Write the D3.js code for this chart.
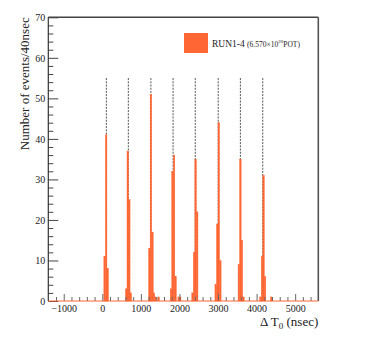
<!DOCTYPE html>
<html>
<head>
<meta charset="utf-8">
<script src="https://cdn.jsdelivr.net/npm/d3@7"></script>
<style>
  body { margin: 0; background: #fff; }
  text { font-family: "Liberation Serif", "DejaVu Serif", serif; fill: #222; }
</style>
</head>
<body>
<script>
// histograma de Delta T0, bins de 40 ns (solo bins no vacios)
const binWidth = 40;
const binLow = [40, 80, 120,
  600, 640, 680, 720,
  1200, 1240, 1280, 1320, 1360, 1440,
  1760, 1800, 1840, 1880, 1960, 2000,
  2320, 2360, 2400, 2440,
  2920, 2960, 3000, 3040,
  3520, 3560, 3600, 3640,
  4080, 4120, 4160, 4200,
  4360];
const binCount = [11, 41, 8,
  3, 37, 25, 2,
  13, 51, 17, 2, 1, 1,
  3, 32, 36, 6, 1, 1,
  2, 12, 35, 22,
  4, 19, 44, 10,
  9, 35, 15, 1,
  1, 11, 31, 6,
  1];

// centros de los bunches (lineas discontinuas) y su altura
const bunchCenters = [105, 675, 1260, 1835, 2410, 3005, 3580, 4160];
const bunchLineTop = 55;

const xRange = [-1400, 5600];
const yRange = [0, 70];
const xMajorTicks = [-1000, 0, 1000, 2000, 3000, 4000, 5000];
const yMajorTicks = [0, 10, 20, 30, 40, 50, 60, 70];

const legendLabel = 'RUN1-4';
const legendDetail = '(6.570×10';
const legendExp = '20';
const legendUnit = 'POT)';

const W = 374, H = 359;
const frame = {left: 48.3, right: 318.3, top: 17.3, bottom: 301};
const orange = '#ff6633';

const svg = d3.select('body').append('svg')
  .attr('width', W)
  .attr('height', H);

svg.append('rect').attr('width', W).attr('height', H).attr('fill', '#fff');

const x = d3.scaleLinear().domain(xRange).range([frame.left, frame.right]);
const y = d3.scaleLinear().domain(yRange).range([frame.bottom, frame.top]);

// lineas discontinuas (debajo de las barras)
svg.append('g')
  .selectAll('line')
  .data(bunchCenters)
  .enter()
  .append('line')
  .attr('x1', d => x(d))
  .attr('x2', d => x(d))
  .attr('y1', y(bunchLineTop))
  .attr('y2', y(0))
  .attr('stroke', '#555')
  .attr('stroke-width', 1)
  .attr('stroke-dasharray', '2,1.2');

// barras
const bins = binLow.map((b, i) => ({low: b, count: binCount[i]}));
svg.append('g')
  .selectAll('rect')
  .data(bins)
  .enter()
  .append('rect')
  .attr('x', d => x(d.low))
  .attr('width', d => x(d.low + binWidth) - x(d.low))
  .attr('y', d => y(d.count))
  .attr('height', d => y(0) - y(d.count))
  .attr('fill', orange)
  .attr('stroke', orange)
  .attr('stroke-width', 0.4);

// ejes (ticks hacia dentro, estilo ROOT)
const xMajor = d3.axisBottom(x)
  .tickValues(xMajorTicks)
  .tickSizeInner(-7)
  .tickSizeOuter(0)
  .tickPadding(4)
  .tickFormat(d3.format('d'));
const xMinor = d3.axisBottom(x)
  .tickValues(d3.range(xRange[0] + 200, xRange[1], 200).filter(v => v % 1000 !== 0))
  .tickSizeInner(-4)
  .tickSizeOuter(0)
  .tickFormat('');

const gx = svg.append('g').attr('transform', `translate(0,${frame.bottom})`).call(xMajor);
const gxm = svg.append('g').attr('transform', `translate(0,${frame.bottom})`).call(xMinor);
[gx, gxm].forEach(g => {
  g.select('.domain').remove();
  g.selectAll('line').attr('stroke', '#666').attr('stroke-width', 1);
});
gx.selectAll('text')
  .style('font-size', '10px')
  .style('font-family', '"Liberation Serif", serif')
  .attr('fill', '#222');

const yMajor = d3.axisLeft(y)
  .tickValues(yMajorTicks)
  .tickSizeInner(-10)
  .tickSizeOuter(0)
  .tickPadding(3)
  .tickFormat(d3.format('d'));
const yMinor = d3.axisLeft(y)
  .tickValues(d3.range(2, 70, 2).filter(v => v % 10 !== 0))
  .tickSizeInner(-5)
  .tickSizeOuter(0)
  .tickFormat('');

const gy = svg.append('g').attr('transform', `translate(${frame.left},0)`).call(yMajor);
const gym = svg.append('g').attr('transform', `translate(${frame.left},0)`).call(yMinor);
[gy, gym].forEach(g => {
  g.select('.domain').remove();
  g.selectAll('line').attr('stroke', '#444').attr('stroke-width', 1);
});
gy.selectAll('text')
  .style('font-size', '10px')
  .style('font-family', '"Liberation Serif", serif')
  .attr('fill', '#222');

// marco
svg.append('line')
  .attr('x1', frame.left).attr('x2', frame.left)
  .attr('y1', frame.top).attr('y2', frame.bottom)
  .attr('stroke', '#333').attr('stroke-width', 1.2);
svg.append('line')
  .attr('x1', frame.left).attr('x2', frame.right)
  .attr('y1', frame.top).attr('y2', frame.top)
  .attr('stroke', '#444').attr('stroke-width', 1.5);
svg.append('line')
  .attr('x1', frame.right).attr('x2', frame.right)
  .attr('y1', frame.top).attr('y2', frame.bottom)
  .attr('stroke', '#555').attr('stroke-width', 1.6);

// linea del histograma en cero (naranja sobre el eje)
svg.append('line')
  .attr('x1', x(xRange[0])).attr('x2', x(xRange[1]))
  .attr('y1', y(0)).attr('y2', y(0))
  .attr('stroke', orange).attr('stroke-width', 1.2);

// titulos
svg.append('text')
  .attr('transform', `translate(29,${frame.top}) rotate(-90)`)
  .attr('text-anchor', 'end')
  .style('font-size', '13px')
  .text('Number of events/40nsec');

const xt = svg.append('text')
  .attr('x', frame.right)
  .attr('y', 326)
  .attr('text-anchor', 'end')
  .style('font-size', '13px');
xt.append('tspan').text('Δ T');
xt.append('tspan').attr('dy', 3).style('font-size', '9px').text('0');
xt.append('tspan').attr('dy', -3).text(' (nsec)');

// leyenda
svg.append('rect')
  .attr('x', 184).attr('y', 33)
  .attr('width', 24).attr('height', 20)
  .attr('fill', orange);

const lt = svg.append('text')
  .attr('x', 212)
  .attr('y', 46.5)
  .style('font-size', '9.5px');
lt.append('tspan').text(legendLabel + ' ');
lt.append('tspan').style('font-size', '7.5px').text(legendDetail);
lt.append('tspan').style('font-size', '5px').attr('dy', -3.5).text(legendExp);
lt.append('tspan').style('font-size', '7.5px').attr('dy', 3.5).text(legendUnit);
</script>
</body>
</html>
